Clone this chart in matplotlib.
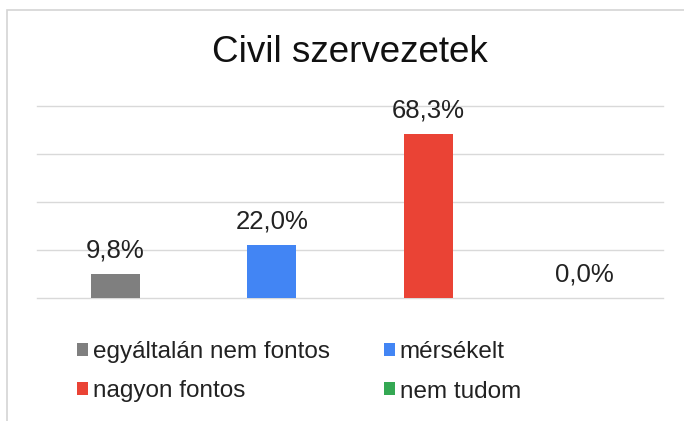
import matplotlib.pyplot as plt
from matplotlib.patches import Rectangle

# data
categories = ['egyáltalán nem fontos', 'mérsékelt', 'nagyon fontos', 'nem tudom']
values = [9.8, 22.0, 68.3, 0.0]
colors = ['#7f7f7f', '#4285f4', '#ea4335', '#34a853']
title = 'Civil szervezetek'

plt.rcParams['font.family'] = ['Liberation Sans', 'DejaVu Sans']

fig = plt.figure(figsize=(6.84, 4.21), dpi=100)
fig.patch.set_facecolor('white')

# light frame of the chart area (left and top edges visible)
fig.add_artist(Rectangle((7/684, -0.1), 1.2, 1 - 10/421 + 0.1, transform=fig.transFigure,
                         fill=False, edgecolor='#d4d4d4', linewidth=1.2))

ax = fig.add_axes([37/684, 1 - 298/421, 626/684, (298 - 106)/421])
x = list(range(len(categories)))
bars = ax.bar(x, values, width=0.31, color=colors, zorder=3)

ax.set_xlim(-0.5, 3.5)
ax.set_ylim(0, 80)
ax.set_yticks([0, 20, 40, 60, 80])
ax.yaxis.grid(True, color='#d9d9d9', linewidth=1)
for gl in ax.get_ygridlines():
    gl.set_clip_on(False)
ax.tick_params(left=False, bottom=False, labelleft=False, labelbottom=False)
for s in ax.spines.values():
    s.set_visible(False)

for xi, v in zip(x, values):
    ax.annotate('{:.1f}%'.format(v).replace('.', ','), xy=(xi, v), xytext=(0, 12),
                textcoords='offset points', ha='center', va='baseline',
                fontsize=18.5, color='#222222')

fig.text(350/684, 1 - 52/421, title, ha='center', va='center', fontsize=26.5, color='#111111')

# legend: row-wise order (egyáltalán, mérsékelt / nagyon, nem tudom)
order = [0, 2, 1, 3]
leg = fig.legend([bars.patches[i] for i in order], [categories[i] for i in order],
                 ncol=2, loc='upper left', bbox_to_anchor=(77/684, 1 - 341/421),
                 frameon=False, fontsize=17.5, handlelength=0.46, handleheight=0.46,
                 handletextpad=0.2, columnspacing=2.2, labelspacing=0.72,
                 borderpad=0, borderaxespad=0)
for t in leg.get_texts():
    t.set_color('#222222')

fig.savefig('out.png', dpi=100)
